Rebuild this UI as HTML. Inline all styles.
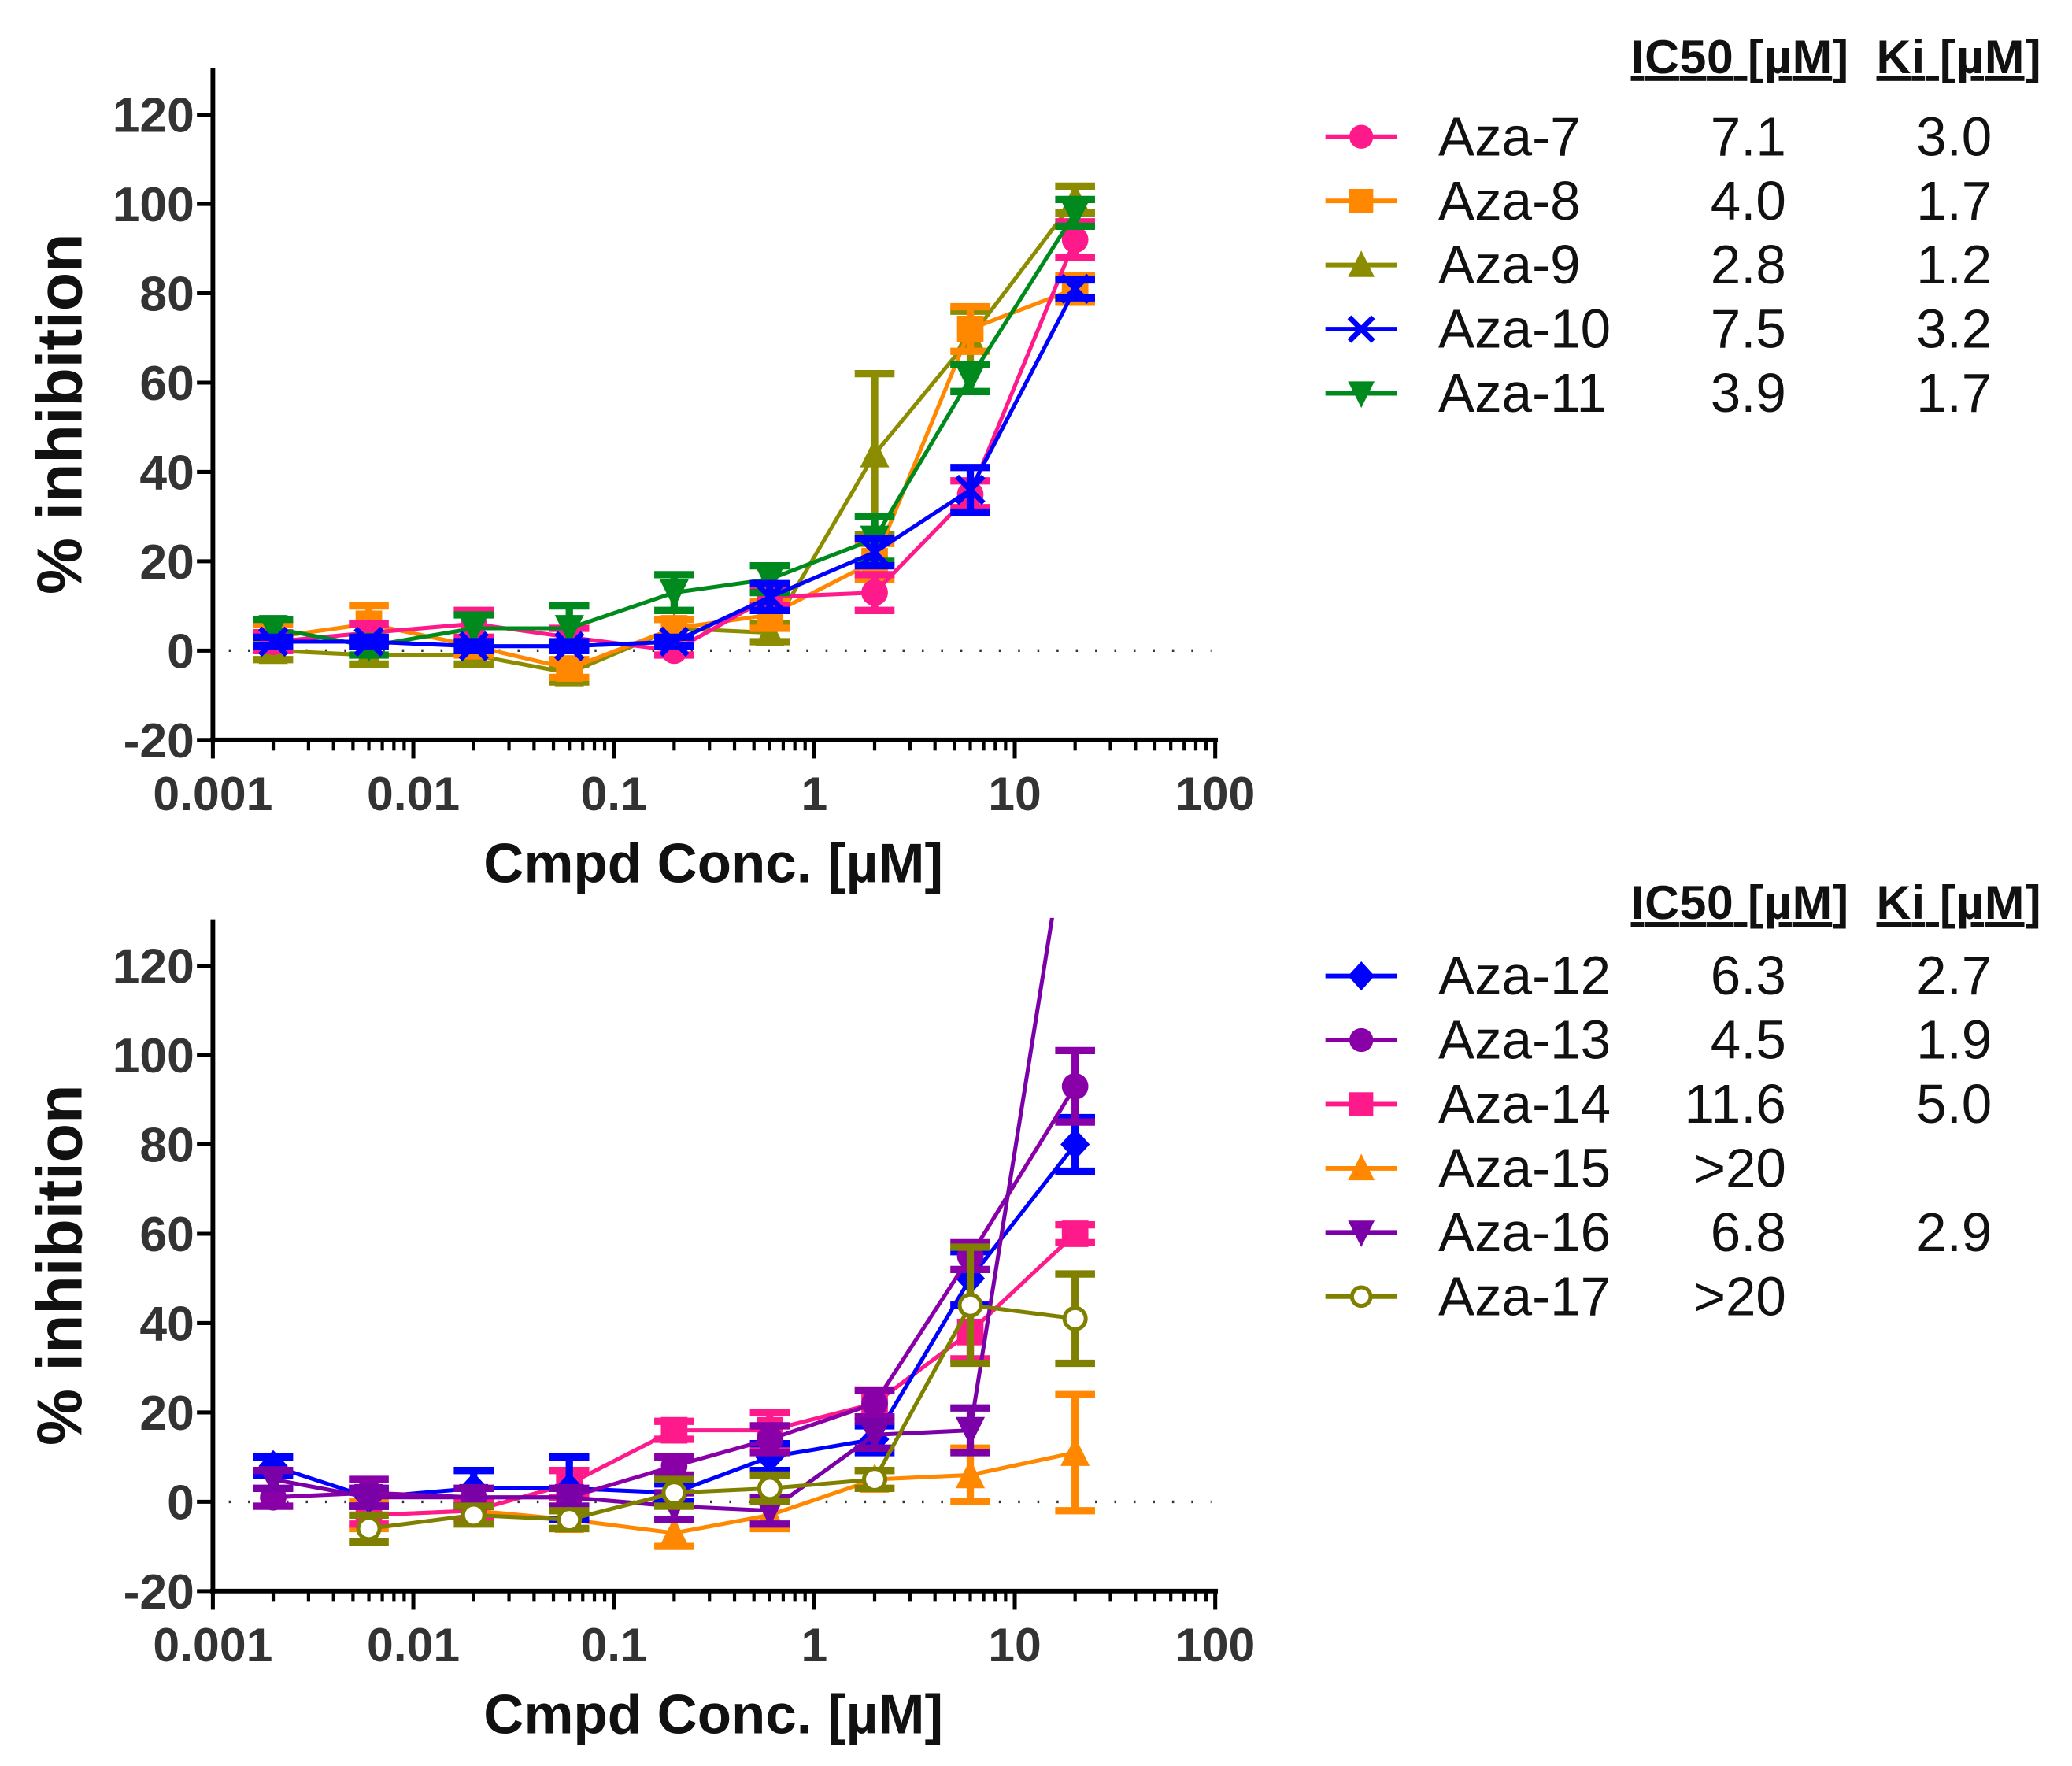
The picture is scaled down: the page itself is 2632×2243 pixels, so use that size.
<!DOCTYPE html>
<html><head><meta charset="utf-8"><style>
html,body{margin:0;padding:0;background:#fff;}
svg{display:block;}
text{font-family:"Liberation Sans",Arial,sans-serif;}
</style></head><body>
<svg id="fig" width="2632" height="2243" viewBox="0 0 1560 1330" xmlns="http://www.w3.org/2000/svg"></svg>
<script>
const concentrations = [0.002, 0.006, 0.02, 0.06, 0.2, 0.6, 2, 6, 20];
const xTickLabels = ["0.001","0.01","0.1","1","10","100"];
const yTickValues = [-20, 0, 20, 40, 60, 80, 100, 120];

const aza7  = [2, 4, 6, 3, 0, 12, 13, 35, 92];
const aza8  = [3, 6, 1, -4, 5, 8, 20, 72, 81];
const aza9  = [0, -1, -1, -5, 5, 4, 44, 70, 101];
const aza10 = [2, 2, 1, 1, 2, 12, 22, 36, 81];
const aza11 = [5, 1, 5, 5, 13, 16, 25, 61, 98];
const err7  = [2, 2, 3, 2, 1, 2, 4, 3, 4];
const err8  = [3, 4, 2, 2, 2, 3, 4, 5, 3];
const err9  = [2, 2, 2, 2, 2, 2, 18, 6, 3];
const err10 = [1, 1, 1, 1, 1, 3, 3, 5, 2];
const err11 = [2, 2, 3, 5, 4, 3, 5, 3, 3];

const aza12 = [8, 1, 3, 3, 2, 10, 14, 50, 80];
const aza13 = [1, 2, 1, 1, 8, 14, 22, 55, 93];
const aza14 = [null, -3, -2, 4, 16, 16, 22, 38, 60];
const aza15 = [null, -3, -2, -4, -7, -3, 5, 6, 11];
const aza16 = [5, 1, 1, 1, -1, -2, 15, 16, 163];
const aza17 = [null, -6, -3, -4, 2, 3, 5, 44, 41];
const err12 = [2, 2, 4, 7, 2, 3, 3, 6, 6];
const err13 = [2, 3, 2, 2, 2, 3, 3, 3, 8];
const err14 = [0, 2, 2, 3, 2, 4, 3, 6, 2];
const err15 = [0, 3, 2, 2, 3, 3, 2, 6, 13];
const err16 = [2, 2, 2, 2, 3, 3, 3, 5, 0];
const err17 = [0, 3, 2, 2, 3, 3, 2, 13, 10];

const topNames = ["Aza-7","Aza-8","Aza-9","Aza-10","Aza-11"];
const topIC50 = ["7.1","4.0","2.8","7.5","3.9"];
const topKi = ["3.0","1.7","1.2","3.2","1.7"];
const botNames = ["Aza-12","Aza-13","Aza-14","Aza-15","Aza-16","Aza-17"];
const botIC50 = ["6.3","4.5","11.6",">20","6.8",">20"];
const botKi = ["2.7","1.9","5.0","","2.9",""];

const NS = "http://www.w3.org/2000/svg";
const svg = document.getElementById('fig');
function el(tag, attrs, parent){ const e=document.createElementNS(NS,tag); for(const k in attrs) e.setAttribute(k,attrs[k]); (parent||svg).appendChild(e); return e; }

function makePanel(top0, pid){
  const x0=160, x1=917;
  const xs = v => 160 + (Math.log10(v)+3)*151;
  const ys = v => top0 - v*3.364;
  const g = el('g',{});
  
  
  const clipId='clip'+pid;
  const cp=el('clipPath',{id:clipId},g);
  el('rect',{x:x0,y:ys(120)-36,width:x1-x0+20,height:ys(-20)-ys(120)+36},cp);
  const zl=el('line',{x1:172,x2:912,y1:ys(0),y2:ys(0),stroke:'#333','stroke-width':2,'stroke-dasharray':'1.5 13'},g);
  
  
  const ya=el('line',{x1:x0,x2:x0,y1:ys(120)-35,y2:ys(-20)+2,stroke:'#000','stroke-width':3.5},g);
  
  
  const xa=el('line',{x1:x0-2,x2:x1,y1:ys(-20),y2:ys(-20),stroke:'#000','stroke-width':3.5},g);
  
  
  yTickValues.forEach(v=>{
    el('line',{x1:x0-12,x2:x0,y1:ys(v),y2:ys(v),stroke:'#000','stroke-width':3},g);
    const t=el('text',{x:x0-14,y:ys(v)+13,'text-anchor':'end','font-size':37,'font-weight':'bold',fill:'#333'},g);
    t.textContent=v;
    
    
  });
  for(let d=-3; d<=2; d++){
    const px=xs(Math.pow(10,d));
    el('line',{x1:px,x2:px,y1:ys(-20),y2:ys(-20)+14,stroke:'#000','stroke-width':3},g);
    const t=el('text',{x:px,y:ys(-20)+53,'text-anchor':'middle','font-size':36,'font-weight':'bold',fill:'#333'},g);
    t.textContent=xTickLabels[d+3];
    
    
    if(d<2) for(let m=2;m<=9;m++){
      const mx=xs(m*Math.pow(10,d));
      el('line',{x1:mx,x2:mx,y1:ys(-20),y2:ys(-20)+8,stroke:'#000','stroke-width':2.5},g);
    }
  }
  const xt=el('text',{x:537,y:ys(-20)+107,'text-anchor':'middle','font-size':42,'font-weight':'bold',fill:'#111'},g);
  xt.textContent='Cmpd Conc. [\u00b5M]';
  
  
  const yt=el('text',{x:0,y:0,'text-anchor':'middle','font-size':48,'font-weight':'bold',fill:'#111',transform:`translate(61,${ys(53)}) rotate(-90)`},g);
  yt.textContent='% inhibition';
  
  
  return {g,xs,ys,clipId};
}

function marker(g,type,cx,cy,color,s){
  s=s||10;
  if(type==='circle') return el('circle',{cx,cy,r:s,fill:color},g);
  if(type==='ocircle') return el('circle',{cx,cy,r:s-2,fill:'#fff',stroke:color,'stroke-width':3},g);
  if(type==='square') return el('rect',{x:cx-s,y:cy-s,width:2*s,height:2*s,fill:color},g);
  if(type==='tri') return el('polygon',{points:`${cx},${cy-s-2} ${cx+s+1},${cy+s} ${cx-s-1},${cy+s}`,fill:color},g);
  if(type==='dtri') return el('polygon',{points:`${cx},${cy+s+2} ${cx+s+1},${cy-s} ${cx-s-1},${cy-s}`,fill:color},g);
  if(type==='diamond') return el('polygon',{points:`${cx},${cy-s-2} ${cx+s+1},${cy} ${cx},${cy+s+2} ${cx-s-1},${cy}`,fill:color},g);
  if(type==='x'){ return el('path',{d:`M${cx-s},${cy-s}L${cx+s},${cy+s}M${cx+s},${cy-s}L${cx-s},${cy+s}`,stroke:color,'stroke-width':4},g); }
}

function series(P,name,vals,errs,color,type){
  const g=el('g',{'clip-path':`url(#${P.clipId})`},P.g);
  
  
  let d='';
  vals.forEach((v,i)=>{ if(v===null) return; d+=(d?'L':'M')+P.xs(concentrations[i])+','+P.ys(v); });
  const ln=el('path',{d,fill:'none',stroke:color,'stroke-width':3},g);
  
  
  vals.forEach((v,i)=>{
    if(v===null) return;
    const cx=P.xs(concentrations[i]), cy=P.ys(v), e=errs[i];
    if(e>0){
      const y1=P.ys(v+e), y2=P.ys(v-e);
      el('path',{d:`M${cx},${y1}L${cx},${y2}M${cx-15},${y1}L${cx+15},${y1}M${cx-15},${y2}L${cx+15},${y2}`,stroke:color,'stroke-width':5.5,fill:'none'},g);
    }
    const m=marker(g,type,cx,cy,color);
    
    
  });
}

function legend(hy,ey,names,ic,ki,colors,types,pid){
  const g=el('g',{});
  
  
  const h1=el('text',{x:1228,y:hy,'font-size':36,'font-weight':'bold','text-decoration':'underline',fill:'#111',textLength:164},g);
  h1.textContent='IC50 [\u00b5M]';
  
  
  const h2=el('text',{x:1413,y:hy,'font-size':36,'font-weight':'bold','text-decoration':'underline',fill:'#111',textLength:124},g);
  h2.textContent='Ki [\u00b5M]';
  
  
  names.forEach((n,i)=>{
    const y=ey+i*48.3;
    const eg=el('g',{},g);
    
    
    el('line',{x1:998,x2:1052,y1:y,y2:y,stroke:colors[i],'stroke-width':3.5},eg);
    marker(eg,types[i],1025,y,colors[i],9);
    const t=el('text',{x:1083,y:y+14,'font-size':41,fill:'#111'},eg);t.textContent=n;
    const a=el('text',{x:1345,y:y+14,'font-size':41,fill:'#111','text-anchor':'end'},eg);a.textContent=ic[i];
    const b=el('text',{x:1500,y:y+14,'font-size':41,fill:'#111','text-anchor':'end'},eg);b.textContent=ki[i];
  });
}

const P1=makePanel(490,'top');
const c1=['#ff1a8c','#ff8800','#8c8c00','#0000ff','#008a1e'];
const t1=['circle','square','tri','x','dtri'];
series(P1,'Aza-9',aza9,err9,c1[2],t1[2]);
series(P1,'Aza-8',aza8,err8,c1[1],t1[1]);
series(P1,'Aza-7',aza7,err7,c1[0],t1[0]);
series(P1,'Aza-11',aza11,err11,c1[4],t1[4]);
series(P1,'Aza-10',aza10,err10,c1[3],t1[3]);
legend(55,103,topNames,topIC50,topKi,c1,t1,'top');

const P2=makePanel(1131,'bottom');
const c2=['#0000ff','#8a00a8','#ff1a8c','#ff8800','#7a00a8','#808000'];
const t2=['diamond','circle','square','tri','dtri','ocircle'];
series(P2,'Aza-15',aza15,err15,c2[3],t2[3]);
series(P2,'Aza-14',aza14,err14,c2[2],t2[2]);
series(P2,'Aza-12',aza12,err12,c2[0],t2[0]);
series(P2,'Aza-13',aza13,err13,c2[1],t2[1]);
series(P2,'Aza-16',aza16,err16,c2[4],t2[4]);
series(P2,'Aza-17',aza17,err17,c2[5],t2[5]);
legend(692,735,botNames,botIC50,botKi,c2,t2,'bottom');
</script>
</body></html>
